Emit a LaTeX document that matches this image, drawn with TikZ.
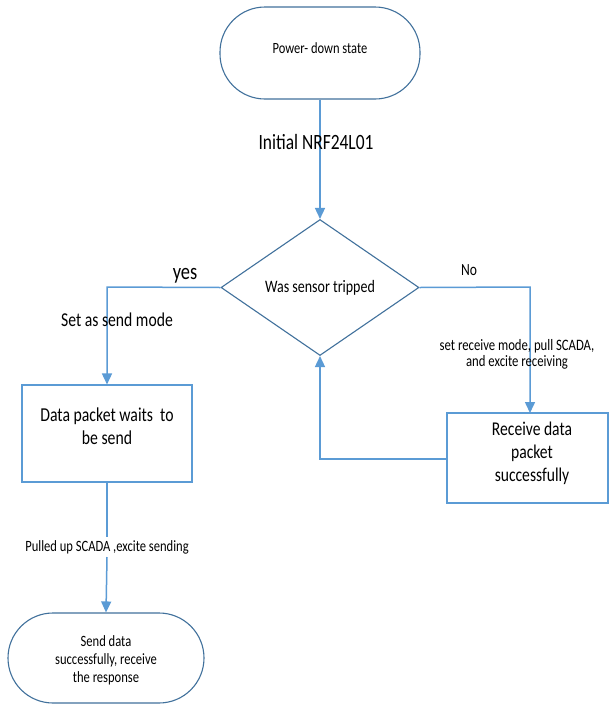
\documentclass[tikz,border=0pt]{standalone}
\usepackage{fontspec}
\setmainfont{Carlito}[FakeStretch=0.8]
\usetikzlibrary{shapes.geometric,arrows.meta}
\definecolor{darkline}{HTML}{41719C}
\definecolor{lightline}{HTML}{5B9BD5}
\tikzset{
  terminal/.style={draw=darkline, line width=1.1pt, rounded corners=45pt, align=center, inner sep=0pt},
  decision/.style={draw=darkline, line width=1.1pt, diamond, aspect=1.456, inner sep=0pt, minimum width=198pt, minimum height=136pt},
  procbox/.style={draw=lightline, line width=1.1pt, align=center, inner sep=0pt},
  flow/.style={draw=lightline, line width=1.5pt, -{Triangle[width=10pt,length=11pt]}},
  flowplain/.style={draw=lightline, line width=1.5pt},
  txt/.style={align=center, inner sep=0pt},
}
\begin{document}
\begin{tikzpicture}[x=1pt,y=-1pt]
\useasboundingbox (0,0) rectangle (609,705);
\fill[white] (0,0) rectangle (609,705);

\node[terminal, minimum width=200pt, minimum height=92pt] (pd) at (320,53) {};
\node[txt, font=\fontsize{15.6}{18}\selectfont] (pdtxt) at (320,48) {Power- down state};
\node[decision, font=\fontsize{17.5}{20}\selectfont] (dia) at (320,287.5) {Was sensor tripped};
\node[procbox, minimum width=170pt, minimum height=97pt] (wait) at (107,433.5) {};
\node[txt, font=\fontsize{19.7}{23}\selectfont] (waittxt) at (107,426) {Data packet waits \ to\\be send};
\node[procbox, minimum width=161pt, minimum height=90pt] (recv) at (527.5,458) {};
\node[txt, font=\fontsize{19.5}{23}\selectfont] (recvtxt) at (532,453) {Receive data\\packet\\successfully};
\node[terminal, minimum width=196pt, minimum height=90pt] (sent) at (106,658) {};
\node[txt, font=\fontsize{15.7}{18}\selectfont] (senttxt) at (106,660) {Send data\\successfully, receive\\the response};

\coordinate (yescorner) at (107,287);
\coordinate (nocorner) at (530,287);
\coordinate (loopcorner) at (320,459);
\coordinate (recvin) at (530,413);
\coordinate (recvout) at (447,459);

\draw[flow] (pd.south) -- (dia.north);
\draw[flow] (dia.west) -- (yescorner) -- (wait.north);
\draw[flow] (dia.east) -- (nocorner) -- (recvin);
\draw[flow] (recvout) -- (loopcorner) -- (dia.south);
\node[txt, font=\fontsize{15.7}{18}\selectfont, fill=white, inner sep=3pt] (pulled) at (107,547) {Pulled up SCADA ,excite sending};
\draw[flowplain] (wait.south) -- (pulled.north);
\draw[flow] (pulled.south) -- (sent.north);

\node[txt, font=\fontsize{21.8}{24}\selectfont] (initlbl) at (316,142) {Initial NRF24L01};
\node[txt, font=\fontsize{23}{24}\selectfont] (yeslbl) at (185,276) {yes};
\node[txt, font=\fontsize{17}{20}\selectfont] (nolbl) at (469,270) {No};
\node[txt, font=\fontsize{19.6}{22}\selectfont] (sendlbl) at (117,320) {Set as send mode};
\node[txt, font=\fontsize{15.9}{16}\selectfont] (recvlbl) at (517,354) {set receive mode, pull SCADA,\\and excite receiving};
\end{tikzpicture}
\end{document}
